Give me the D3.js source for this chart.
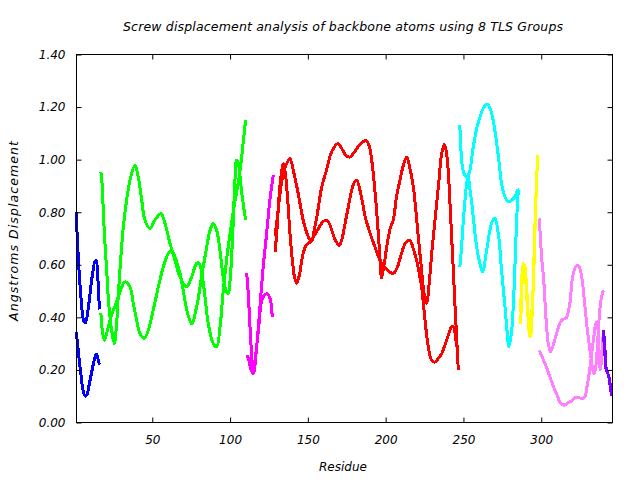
<!DOCTYPE html>
<html><head><meta charset="utf-8">
<script src="https://cdn.jsdelivr.net/npm/d3@7"></script>
<style>
html,body{margin:0;padding:0;background:#fff;}
text{font-family:"DejaVu Sans",sans-serif;font-style:italic;font-size:12px;fill:#000;}
</style></head>
<body><svg id="c" width="640" height="480"></svg>
<script>
const title = "Screw displacement analysis of backbone atoms using 8 TLS Groups";
const xLabel = "Residue";
const yLabel = "Angstroms Displacement";
const xTicks = [50, 100, 150, 200, 250, 300];
const yTicks = [0, 0.2, 0.4, 0.6, 0.8, 1.0, 1.2, 1.4];

// TLS group 1 (blue)
const g1Res = [1,2,3,4,5,6,7,8,9,10,11,12,13,14,15,16];
const g1A = [0.80,0.68,0.57,0.49,0.42,0.385,0.38,0.40,0.44,0.49,0.54,0.58,0.61,0.615,0.55,0.43];
const g1B = [0.345,0.30,0.24,0.19,0.14,0.11,0.10,0.105,0.13,0.16,0.19,0.22,0.245,0.26,0.245,0.22];

// TLS group 2 (green)
const g2ResA = [17,17.9,18.5,19.6,20.7,21.7,22.8,23.9,25.6,27.1,28.1,29.2,31.4,33.5,35.7,38.9,41,43.2,45.3,48.5,51.7,55.6,58.2,61.4,64.6,67.8,72.1,75.3,78.5,80,82.2,83.9,86,89.2,91.4,93.5,95.6,97.8,100,102,104,106,108,110];
const g2A = [0.953,0.896,0.808,0.681,0.579,0.478,0.402,0.351,0.300,0.376,0.478,0.579,0.744,0.846,0.922,0.979,0.934,0.846,0.770,0.738,0.770,0.795,0.757,0.681,0.617,0.554,0.516,0.554,0.605,0.607,0.554,0.478,0.376,0.300,0.288,0.36,0.50,0.62,0.72,0.80,0.87,0.94,1.04,1.152];
const g2ResB = [17,17.9,19.2,20.7,22.8,24.9,27.1,29.2,32.5,35.7,37.8,40,42.1,44.9,47.4,50.6,53.9,57.1,60.3,62.5,64.6,67.8,69.9,72.7,75.3,78.5,81.7,85,87.1,89.2,91.4,93.5,95.6,97.5,98.9,100,101,102,103,104.2,105.5,107,108.5,110];
const g2B = [0.415,0.351,0.313,0.339,0.389,0.427,0.459,0.497,0.535,0.516,0.453,0.389,0.339,0.320,0.351,0.427,0.516,0.592,0.643,0.655,0.630,0.567,0.503,0.415,0.376,0.440,0.554,0.668,0.731,0.757,0.731,0.655,0.554,0.50,0.49,0.54,0.63,0.76,0.90,0.998,0.98,0.90,0.83,0.77];

// TLS group 3 (magenta)
const g3ResA = [110.7,111.7,112.8,113.8,114.5,116,118.2,120.3,121.5,123.5,125.7,127.1];
const g3A = [0.569,0.49,0.364,0.262,0.186,0.237,0.351,0.465,0.48,0.49,0.472,0.40];
const g3ResB = [110.7,112,113.5,114.9,117.1,119.2,121.3,123.5,125.6,127.8];
const g3B = [0.256,0.24,0.20,0.186,0.288,0.44,0.592,0.719,0.846,0.941];

// TLS group 4 (red)
const g4ResA = [128.9,130,131.5,133,134.5,136,138.5,140.6,143.8,147,150.3,152.4,154,155.7,157.3,158.9,160.5,162,165.3,169.5,172,174.5,177,180,183,185.5,187.5,189.5,191,192.5,194,195.5,196.5,197.4,199,201,203,204.9,207,209.2,211,213.5,215.5,217.8,219.5,221,223.1,224.7,226.3,228,229.6,231.2,232.8,234.4,236,237.7,239,240.2,241.3,242.4,243.5,244.5,245.6,246.7];
const g4A = [0.71,0.76,0.84,0.91,0.95,0.98,1.004,0.96,0.871,0.77,0.706,0.69,0.73,0.78,0.84,0.896,0.93,0.96,1.03,1.061,1.04,1.015,1.01,1.03,1.055,1.068,1.073,1.05,1.00,0.92,0.82,0.70,0.61,0.55,0.60,0.68,0.74,0.77,0.86,0.922,0.97,1.01,0.97,0.896,0.80,0.706,0.579,0.49,0.453,0.53,0.643,0.74,0.833,0.93,1.023,1.059,1.03,0.96,0.84,0.706,0.58,0.453,0.326,0.199];
const g4ResB = [128.9,130,131.5,133,134.2,135.5,137,138.5,140,141.5,142.8,144.5,146.5,148.5,150.3,152,154,156,158,160,162.1,164,166,168,170.2,172,174,176,178,180,181.4,184,187,190,193,197,201,204.9,207.5,210,213,215.6,217.8,219.9,221.5,223.1,225.3,227.4,229.6,231.7,234,236,239.2,242.4,243.6,245,246.2];
const g4B = [0.65,0.72,0.86,0.95,0.985,0.95,0.85,0.72,0.62,0.55,0.529,0.56,0.63,0.67,0.681,0.69,0.71,0.73,0.75,0.765,0.77,0.755,0.72,0.69,0.674,0.70,0.76,0.82,0.88,0.915,0.922,0.87,0.78,0.72,0.67,0.61,0.58,0.567,0.59,0.64,0.685,0.693,0.66,0.617,0.57,0.516,0.389,0.288,0.237,0.23,0.245,0.262,0.313,0.364,0.365,0.32,0.275];

// TLS group 5 (cyan)
const g5ResA = [247.7,248.4,249.5,251,253,254.2,255.3,256.3,258.5,260.6,262.3,264.9,267,268.5,270.2,272.4,274.5,276.7,278,279.2,281,282.5,283.7,285.2,285.7];
const g5A = [1.131,1.036,0.966,0.94,0.93,0.884,0.84,0.782,0.668,0.605,0.573,0.655,0.731,0.765,0.776,0.719,0.579,0.44,0.35,0.288,0.351,0.503,0.693,0.871,0.884];
const g5ResB = [247.7,248.8,249.8,251,252.4,254.2,256.3,258.5,260.6,262.7,265.3,267.5,269.1,271.4,273,274.5,276.7,278.8,281,283.1,284.8,285.9];
const g5B = [0.592,0.668,0.757,0.846,0.922,0.96,1.048,1.118,1.162,1.194,1.211,1.188,1.15,1.061,0.985,0.909,0.858,0.839,0.846,0.858,0.884,0.884];

// TLS group 6 (yellow)
const g6ResA = [286.8,287.5,288.4,289.5,290.5,291.5,292.7,293.7,294.8,295.8,296.8,297.7];
const g6A = [0.376,0.50,0.605,0.58,0.50,0.40,0.326,0.40,0.503,0.693,0.884,1.017];
const g6ResB = [286.8,287.5,288.4,289.2,290.2,291.2,292.2,293.2,294.2,295.2,296.2,297.2,297.7];
const g6B = [0.42,0.55,0.60,0.60,0.55,0.45,0.36,0.33,0.42,0.60,0.80,0.95,1.017];

// TLS group 7 (pink)
const g7ResA = [298.7,299.5,300.2,301.5,302.6,303.5,304.5,306,308,309.9,311.5,313.1,315,316.3,318.4,320.6,323.1,324.5,326,328.1,329.7,331.3,333.9,335,336.2,337.1,338.5,339.9];
const g7A = [0.776,0.70,0.63,0.55,0.44,0.36,0.30,0.269,0.30,0.339,0.37,0.389,0.395,0.40,0.453,0.567,0.598,0.59,0.554,0.44,0.35,0.275,0.186,0.21,0.30,0.389,0.47,0.503];
const g7ResB = [298.7,300.5,302.4,304,305.6,307,308.8,310.5,312,314.8,317,319,321.7,324,326,328.1,329.2,330.2,331.3,332.4,333.9,335.2,336.3,337.2,338,339,340];
const g7B = [0.275,0.25,0.224,0.20,0.173,0.15,0.123,0.10,0.078,0.066,0.075,0.08,0.095,0.095,0.091,0.097,0.13,0.161,0.21,0.262,0.33,0.38,0.36,0.25,0.20,0.27,0.35];

// TLS group 8 (purple)
const g8Res = [339.9,340.8,341.6,342.5,343.5,344.5,345.2];
const g8A = [0.351,0.30,0.205,0.19,0.175,0.14,0.11];
const g8B = [0.34,0.27,0.21,0.195,0.17,0.13,0.10];

const groupColors = ["#0000ff","#00ff00","#ff00ff","#ff0000","#00ffff","#ffff00","#ff80ff","#8000ff"];

const series = [
  {res:g1Res, val:g1A, g:0}, {res:g1Res, val:g1B, g:0},
  {res:g2ResA, val:g2A, g:1}, {res:g2ResB, val:g2B, g:1},
  {res:g3ResA, val:g3A, g:2}, {res:g3ResB, val:g3B, g:2},
  {res:g4ResA, val:g4A, g:3}, {res:g4ResB, val:g4B, g:3},
  {res:g5ResA, val:g5A, g:4}, {res:g5ResB, val:g5B, g:4},
  {res:g6ResA, val:g6A, g:5}, {res:g6ResB, val:g6B, g:5},
  {res:g7ResA, val:g7A, g:6}, {res:g7ResB, val:g7B, g:6},
  {res:g8Res, val:g8A, g:7}, {res:g8Res, val:g8B, g:7}
];

const svg = d3.select("#c");
const L = 76.5, R = 612.5, T = 54.5, B = 422.5;
const x = d3.scaleLinear().domain([1.3, 345.8]).range([L, R]);
const y = d3.scaleLinear().domain([0, 1.4]).range([B, T]);

const line = d3.line()
  .x(d => x(d[0])).y(d => y(d[1]))
  .curve(d3.curveCatmullRom.alpha(0.5));

const plot = svg.append("g");
series.forEach(s => {
  const pts = s.res.map((r, i) => [r, s.val[i]]);
  plot.append("path").datum(pts)
    .attr("d", line)
    .attr("fill", "none")
    .attr("stroke", groupColors[s.g])
    .attr("stroke-width", 3)
    .attr("stroke-linejoin", "round")
    .attr("shape-rendering", "crispEdges");
});

// axes (gnuplot style: inward ticks, mirrored)
const tickLen = 5;
const axB = svg.append("g").attr("transform", `translate(0,${B})`)
  .call(d3.axisBottom(x).tickValues(xTicks).tickSizeInner(-tickLen).tickSizeOuter(0).tickPadding(13).tickFormat(d3.format("d")));
const axT = svg.append("g").attr("transform", `translate(0,${T})`)
  .call(d3.axisTop(x).tickValues(xTicks).tickSizeInner(-tickLen).tickSizeOuter(0).tickFormat(""));
const axL = svg.append("g").attr("transform", `translate(${L},0)`)
  .call(d3.axisLeft(y).tickValues(yTicks).tickSizeInner(-tickLen).tickSizeOuter(0).tickPadding(11).tickFormat(d3.format(".2f")));
const axR = svg.append("g").attr("transform", `translate(${R},0)`)
  .call(d3.axisRight(y).tickValues(yTicks).tickSizeInner(-tickLen).tickSizeOuter(0).tickFormat(""));
[axB, axT, axL, axR].forEach(a => {
  a.select(".domain").remove();
  a.attr("font-family", null).attr("font-size", null);
  a.selectAll("line").attr("stroke", "#000");
  a.selectAll("text")
    .style("font-family", "'DejaVu Sans', sans-serif")
    .style("font-style", "italic")
    .style("font-size", "12px")
    .attr("fill", "#000");
});

svg.append("rect").attr("x", L).attr("y", T).attr("width", R - L).attr("height", B - T)
  .attr("fill", "none").attr("stroke", "#000").attr("stroke-width", 1);

svg.append("text").attr("x", 343).attr("y", 31).attr("text-anchor", "middle")
  .style("font-size", "12.5px")
  .attr("textLength", 440).attr("lengthAdjust", "spacing").text(title);
svg.append("text").attr("x", 343).attr("y", 471).attr("text-anchor", "middle").text(xLabel);
svg.append("text").attr("transform", "translate(18,231) rotate(-90)").attr("text-anchor", "middle")
  .style("font-size", "12.5px")
  .attr("textLength", 180).attr("lengthAdjust", "spacing").text(yLabel);
</script>
</body></html>
